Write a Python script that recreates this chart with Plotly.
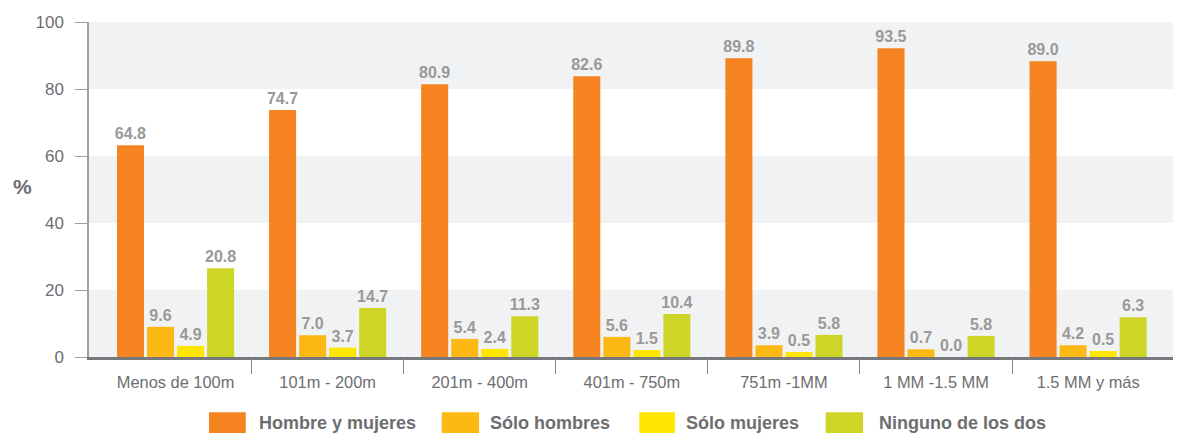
import plotly.graph_objects as go

# categories (population size)
categorias = ['Menos de 100m', '101m - 200m', '201m - 400m', '401m - 750m',
              '751m -1MM', '1 MM -1.5 MM', '1.5 MM y más']

series = ['Hombre y mujeres', 'Sólo hombres', 'Sólo mujeres', 'Ninguno de los dos']
colores = ['#F58420', '#FDB913', '#FFE600', '#CDD627']

# bar heights as drawn in the picture
alto_hombre_mujeres = [63.2, 73.7, 81.4, 83.8, 89.2, 92.2, 88.3]
alto_solo_hombres = [9.0, 6.5, 5.4, 6.0, 3.5, 2.3, 3.5]
alto_solo_mujeres = [3.3, 2.8, 2.4, 2.1, 1.5, 0.0, 1.8]
alto_ninguno = [26.5, 14.6, 12.2, 12.8, 6.6, 6.3, 11.9]

# printed labels
etiq_hombre_mujeres = [64.8, 74.7, 80.9, 82.6, 89.8, 93.5, 89.0]
etiq_solo_hombres = [9.6, 7.0, 5.4, 5.6, 3.9, 0.7, 4.2]
etiq_solo_mujeres = [4.9, 3.7, 2.4, 1.5, 0.5, 0.0, 0.5]
etiq_ninguno = [20.8, 14.7, 11.3, 10.4, 5.8, 5.8, 6.3]

y_ticks = [0, 20, 40, 60, 80, 100]

alturas = [alto_hombre_mujeres, alto_solo_hombres, alto_solo_mujeres, alto_ninguno]
etiquetas = [etiq_hombre_mujeres, etiq_solo_hombres, etiq_solo_mujeres, etiq_ninguno]

FONT = 'Arial, Liberation Sans, sans-serif'
x_range = [-0.569, 6.604]

fig = go.Figure()

for nombre, color, h, et in zip(series, colores, alturas, etiquetas):
    fig.add_trace(go.Bar(
        x=categorias, y=h, name=nombre,
        marker=dict(color=color, line=dict(width=0)),
        text=[f'{v:.1f}' for v in et],
        textposition='outside',
        constraintext='none',
        cliponaxis=False,
        textfont=dict(family=FONT, size=16, color='#999999', weight='bold'),
        showlegend=False,
    ))

# dummy trace to carry the boundary ticks on a second x axis
fig.add_trace(go.Scatter(x=[0], y=[0], xaxis='x2', mode='markers',
                         marker=dict(opacity=0), showlegend=False, hoverinfo='skip'))

# alternating background bands
shapes = []
for lo in [0, 40, 80]:
    shapes.append(dict(type='rect', xref='paper', yref='y', x0=0, x1=1, y0=lo, y1=lo + 20,
                       fillcolor='#F1F2F4', line=dict(width=0), layer='below'))

# custom legend with wide swatches
leg_x = [(0.1100, 0.1437, 0.1537), (0.3233, 0.3575, 0.3660),
         (0.5044, 0.5371, 0.5456), (0.6753, 0.7095, 0.7221)]
annotations = []
for (x0, x1, xt), nombre, color in zip(leg_x, series, colores):
    shapes.append(dict(type='rect', xref='paper', yref='paper', x0=x0, x1=x1,
                       y0=-0.235, y1=-0.165, fillcolor=color, line=dict(width=0)))
    annotations.append(dict(xref='paper', yref='paper', x=xt, y=-0.196, text=nombre,
                            showarrow=False, xanchor='left', yanchor='middle',
                            font=dict(family=FONT, size=18, color='#6D6E71', weight='bold')))

annotations.append(dict(xref='paper', yref='paper', x=-0.061, y=0.51, text='%',
                        showarrow=False, xanchor='center', yanchor='middle',
                        font=dict(family=FONT, size=21, color='#6D6E71', weight='bold')))

# page body has an 8px margin, so the figure is shrunk by that amount
fig.update_layout(
    width=1173, height=425,
    margin=dict(l=81, r=1, t=14, b=76, autoexpand=False),
    paper_bgcolor='white', plot_bgcolor='white',
    barmode='group', bargap=0.21, bargroupgap=0.1,
    font=dict(family=FONT, color='#6D6E71'),
    shapes=shapes, annotations=annotations,
    xaxis=dict(range=x_range, showgrid=False, showline=True, linecolor='#77787B',
               linewidth=3, ticks='', tickfont=dict(family=FONT, size=16.4, color='#6D6E71'),
               zeroline=False, automargin=False, ticklabelstandoff=8),
    xaxis2=dict(overlaying='x', anchor='y', side='bottom', range=x_range,
                tickvals=[0.5, 1.5, 2.5, 3.5, 4.5, 5.5], ticks='outside', ticklen=16,
                tickcolor='#8A8B8E', tickwidth=1, showticklabels=False,
                showgrid=False, zeroline=False, showline=False),
    yaxis=dict(range=[0, 100], tickvals=y_ticks, showgrid=False, zeroline=False,
               showline=True, linecolor='#9D9FA2', linewidth=1.5,
               ticks='outside', ticklen=12, tickcolor='#9D9FA2',
               tickfont=dict(family=FONT, size=17, color='#6D6E71'),
               ticklabelstandoff=8, automargin=False),
)

fig.write_html('out.html')
